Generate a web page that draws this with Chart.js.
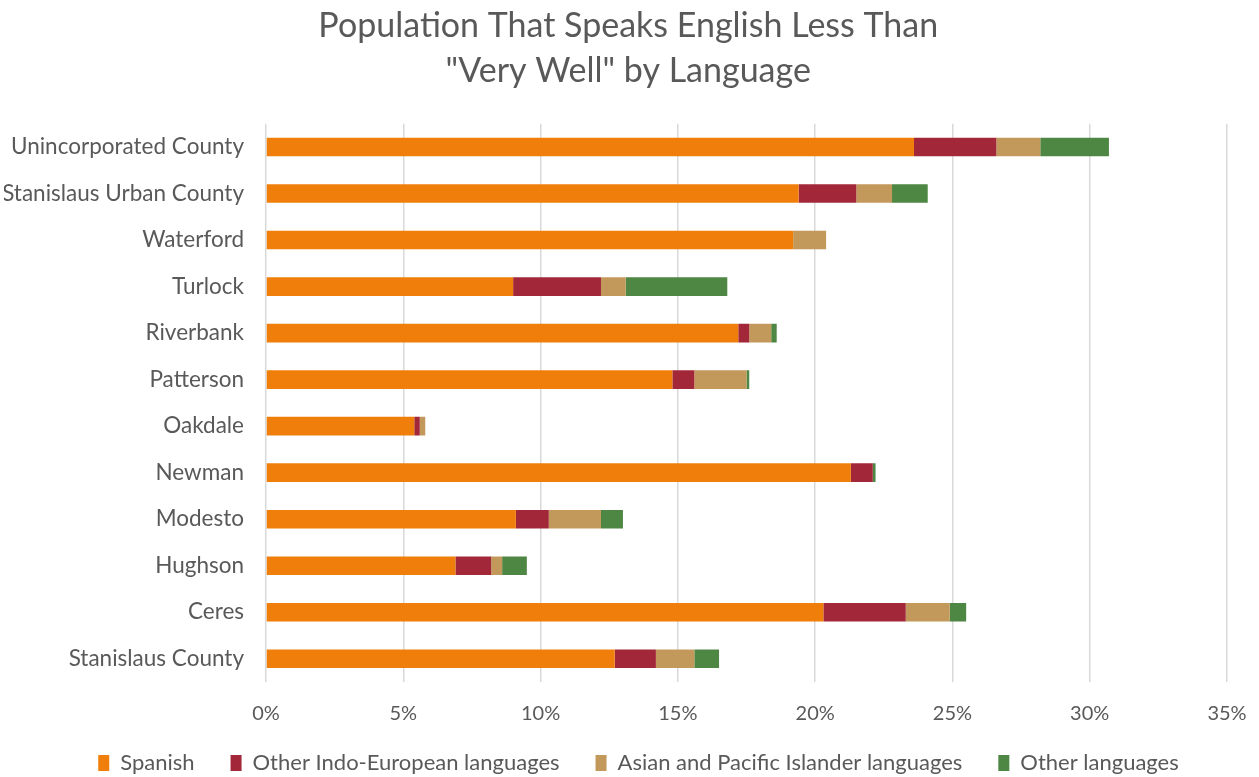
<!DOCTYPE html>
<html>
<head>
<meta charset="utf-8">
<script src="https://cdn.jsdelivr.net/npm/chart.js@4"></script>
<style>
  html, body { margin: 0; padding: 0; background: #fff; }
  #wrap { width: 1259px; height: 777px; }
</style>
</head>
<body>
<div id="wrap"><canvas id="bars"></canvas></div>
<script>
const places = [
  'Unincorporated County',
  'Stanislaus Urban County',
  'Waterford',
  'Turlock',
  'Riverbank',
  'Patterson',
  'Oakdale',
  'Newman',
  'Modesto',
  'Hughson',
  'Ceres',
  'Stanislaus County'
];

const spanish      = [23.6, 19.4, 19.2, 9.0, 17.2, 14.8, 5.4, 21.3, 9.1, 6.9, 20.3, 12.7];
const indoEuropean = [3.0, 2.1, 0, 3.2, 0.4, 0.8, 0.2, 0.8, 1.2, 1.3, 3.0, 1.5];
const asianPacific = [1.6, 1.3, 1.2, 0.9, 0.8, 1.9, 0.2, 0, 1.9, 0.4, 1.6, 1.4];
const otherLangs   = [2.5, 1.3, 0, 3.7, 0.2, 0.1, 0, 0.1, 0.8, 0.9, 0.6, 0.9];

const xTicks = [0, 5, 10, 15, 20, 25, 30, 35];

const font = "Lato, 'Noto Sans', sans-serif";
const grey = '#595959';

// the title sits a little right of centre in the original
const nudge = '\u2002\u2009\u2009';

// same for the legend
const legendShift = {
  id: 'legendShift',
  afterLayout(chart) {
    chart.legend.left += 23;
    chart.legend.right += 23;
  }
};

const ctx = document.getElementById('bars');

new Chart(ctx, {
  type: 'bar',
  data: {
    labels: places,
    datasets: [
      { label: 'Spanish', data: spanish, backgroundColor: '#EF7F0A' },
      { label: 'Other Indo-European languages', data: indoEuropean, backgroundColor: '#A22839' },
      { label: 'Asian and Pacific Islander languages', data: asianPacific, backgroundColor: '#C3995B' },
      { label: 'Other languages', data: otherLangs, backgroundColor: '#4E8643' }
    ]
  },
  options: {
    indexAxis: 'y',
    responsive: true,
    maintainAspectRatio: false,
    animation: false,
    layout: { padding: { left: 4, right: 32, top: 4, bottom: -7 } },
    datasets: {
      bar: { barPercentage: 0.4, categoryPercentage: 1.0 }
    },
    scales: {
      x: {
        stacked: true,
        min: 0,
        max: 35,
        afterBuildTicks: function(axis) {
          axis.ticks = xTicks.map(v => ({ value: v }));
        },
        afterFit: function(scale) {
          scale.height += 3;
          // right margin is set by layout.padding instead
          scale.paddingRight = 0;
        },
        grid: { color: '#d9d9d9', lineWidth: 1.5, drawTicks: false },
        border: { display: false },
        ticks: {
          color: grey,
          padding: 20,
          font: { family: font, size: 20 },
          callback: v => v + '%'
        }
      },
      y: {
        stacked: true,
        afterFit: function(scale) {
          // fixed width so the plot starts where the reference does
          scale.width = 262;
        },
        grid: { display: false, drawTicks: false },
        border: { display: false },
        ticks: {
          color: grey,
          padding: 22,
          font: { family: font, size: 22.5 }
        }
      }
    },
    plugins: {
      title: {
        display: true,
        text: [nudge + 'Population That Speaks English Less Than', nudge + '"Very Well" by Language'],
        color: grey,
        font: { family: font, size: 34, weight: 'normal', lineHeight: 1.32 },
        padding: { top: 0, bottom: 30 }
      },
      legend: {
        position: 'bottom',
        onClick: none,
        labels: {
          color: grey,
          boxWidth: 11,
          boxHeight: 16,
          padding: 3,
          font: { family: font, size: 22 },
          generateLabels: function(chart) {
            const items = Chart.defaults.plugins.legend.labels.generateLabels(chart);
            // widen the gap between legend entries without making the legend taller
            return items.map((it, i) => {
              if (i < items.length - 1) it.text = it.text + '\u2003\u2003';
              return it;
            });
          }
        }
      },
      tooltip: { enabled: false }
    }
  },
  plugins: [legendShift]
});

function none() {
  return;
}
</script>
</body>
</html>
